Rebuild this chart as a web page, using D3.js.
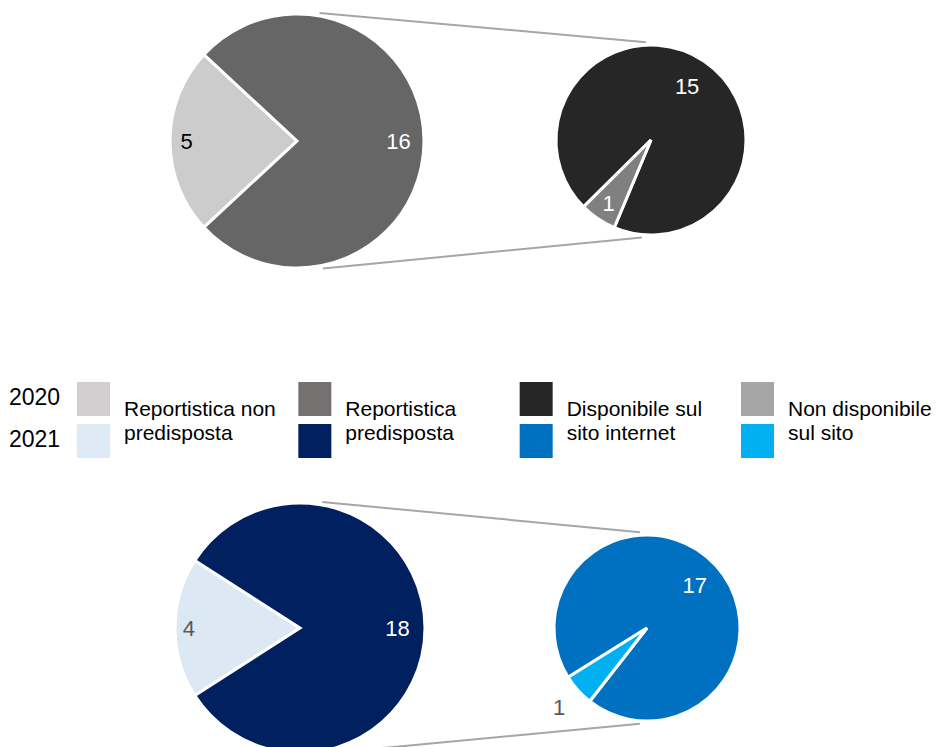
<!DOCTYPE html>
<html>
<head>
<meta charset="utf-8">
<script src="https://cdn.jsdelivr.net/npm/d3@7/dist/d3.min.js"></script>
<style>
  html, body { margin: 0; padding: 0; background: #ffffff; }
  svg { display: block; font-family: Arial, "Liberation Sans", sans-serif; }
</style>
</head>
<body>
<svg id="chart" width="936" height="747"></svg>
<script>
// ---- Data -------------------------------------------------------------
const years = ["2020", "2021"];

// Legend categories (two text lines each)
const legendLabels = [
  ["Reportistica non", "predisposta"],
  ["Reportistica", "predisposta"],
  ["Disponibile sul", "sito internet"],
  ["Non disponibile", "sul sito"]
];

// Main pie: [non predisposta, predisposta]
const main2020 = [5, 16];
const main2021 = [4, 18];

// Detail pie (breakdown of "predisposta"): [disponibile, non disponibile]
const detail2020 = [15, 1];
const detail2021 = [17, 1];

// Legend swatch colours per year
const legendColors2020 = ["#D0CECE", "#767171", "#262626", "#A6A6A6"];
const legendColors2021 = ["#DEEBF7", "#002060", "#0070C0", "#00B0F0"];

// Slice colours
const mainColors2020 = ["#CCCCCC", "#666666"];
const detailColors2020 = ["#262626", "#808080"];
const mainColors2021 = ["#DDE8F5", "#002060"];
const detailColors2021 = ["#0070C0", "#00B0F0"];

// ---- Drawing ----------------------------------------------------------
const svg = d3.select("#chart");
const deg = Math.PI / 180;

function polar(cx, cy, r, a) {
  return [cx + r * Math.sin(a), cy - r * Math.cos(a)];
}

function drawPieOfPie(cfg) {
  const g = svg.append("g");

  // connector lines between the two pies
  const lines = [
    [cfg.lineTop[0], cfg.lineTop[1]],
    [cfg.lineBottom[0], cfg.lineBottom[1]]
  ];
  g.selectAll("line.connector")
    .data(lines)
    .join("line")
    .attr("class", "connector")
    .each(function (d) {
      const p1 = polar(cfg.main.cx, cfg.main.cy, cfg.main.r + 3, d[0] * deg);
      const p2 = polar(cfg.detail.cx, cfg.detail.cy, cfg.detail.r + 3, d[1] * deg);
      d3.select(this)
        .attr("x1", p1[0]).attr("y1", p1[1])
        .attr("x2", p2[0]).attr("y2", p2[1]);
    })
    .attr("stroke", "#A6A6A6")
    .attr("stroke-width", 2);

  // main pie: small slice centred on the left side
  const mainTotal = d3.sum(cfg.mainValues);
  const smallSpan = cfg.mainValues[0] / mainTotal * 2 * Math.PI;
  const mainPie = d3.pie().sort(null).value(d => d)
    .startAngle(1.5 * Math.PI - smallSpan / 2)
    .endAngle(3.5 * Math.PI - smallSpan / 2);
  const mainArcs = mainPie(cfg.mainValues);
  const mainArc = d3.arc().innerRadius(0).outerRadius(cfg.main.r);

  const mg = g.append("g").attr("transform", `translate(${cfg.main.cx},${cfg.main.cy})`);
  mg.selectAll("path")
    .data(mainArcs)
    .join("path")
    .attr("d", mainArc)
    .attr("fill", (d, i) => cfg.mainColors[i])
    .attr("stroke", "#ffffff")
    .attr("stroke-width", 3)
    .attr("stroke-linejoin", "miter");

  mg.selectAll("text")
    .data(mainArcs)
    .join("text")
    .attr("transform", (d, i) => {
      const k = cfg.mainLabelK[i] * cfg.main.r;
      const c = d3.arc().innerRadius(k).outerRadius(k).centroid(d);
      return `translate(${c[0]},${c[1]})`;
    })
    .attr("text-anchor", "middle")
    .attr("dy", "0.36em")
    .attr("font-size", 22)
    .attr("fill", (d, i) => cfg.mainLabelColors[i])
    .text(d => d.data);

  // detail pie: small slice centred at a given angle
  const detTotal = d3.sum(cfg.detailValues);
  const detSmall = cfg.detailValues[1] / detTotal * 2 * Math.PI;
  const smallMid = cfg.detailSmallMid * deg;
  const detStart = smallMid + detSmall / 2;
  const detailPie = d3.pie().sort(null).value(d => d)
    .startAngle(detStart)
    .endAngle(detStart + 2 * Math.PI);
  const detArcs = detailPie(cfg.detailValues);
  const detArc = d3.arc().innerRadius(0).outerRadius(cfg.detail.r);

  const dg = g.append("g").attr("transform", `translate(${cfg.detail.cx},${cfg.detail.cy})`);
  dg.selectAll("path")
    .data(detArcs)
    .join("path")
    .attr("d", detArc)
    .attr("fill", (d, i) => cfg.detailColors[i])
    .attr("stroke", "#ffffff")
    .attr("stroke-width", 3)
    .attr("stroke-linejoin", "miter");

  dg.selectAll("text")
    .data(detArcs)
    .join("text")
    .attr("transform", (d, i) => {
      const k = cfg.detailLabelK[i] * cfg.detail.r;
      const c = d3.arc().innerRadius(k).outerRadius(k).centroid(d);
      return `translate(${c[0]},${c[1]})`;
    })
    .attr("text-anchor", "middle")
    .attr("dy", "0.36em")
    .attr("font-size", 22)
    .attr("fill", (d, i) => cfg.detailLabelColors[i])
    .text(d => d.data);
}

drawPieOfPie({
  main: { cx: 297, cy: 141, r: 127 },
  detail: { cx: 651, cy: 140, r: 95 },
  mainValues: main2020,
  detailValues: detail2020,
  mainColors: mainColors2020,
  detailColors: detailColors2020,
  mainLabelK: [0.87, 0.8],
  mainLabelColors: ["#000000", "#ffffff"],
  detailSmallMid: 214,
  detailLabelK: [0.68, 0.8],
  detailLabelColors: ["#ffffff", "#ffffff"],
  lineTop: [10, -3],
  lineBottom: [168.5, 185.3]
});

drawPieOfPie({
  main: { cx: 300, cy: 628, r: 125 },
  detail: { cx: 647, cy: 628, r: 93 },
  mainValues: main2021,
  detailValues: detail2021,
  mainColors: mainColors2021,
  detailColors: detailColors2021,
  mainLabelK: [0.89, 0.78],
  mainLabelColors: ["#595959", "#ffffff"],
  detailSmallMid: 228,
  detailLabelK: [0.69, 1.27],
  detailLabelColors: ["#ffffff", "#595959"],
  lineTop: [10, -4.2],
  lineBottom: [168.5, 184.3]
});

// ---- Legend -----------------------------------------------------------
const legend = svg.append("g");
const colX = d3.scalePoint().domain(d3.range(legendLabels.length)).range([77, 741]);
const rowY = d3.scalePoint().domain(years).range([382, 424]);
const yearColors = { "2020": legendColors2020, "2021": legendColors2021 };

legend.selectAll("text.year")
  .data(years)
  .join("text")
  .attr("class", "year")
  .attr("x", 9)
  .attr("y", d => rowY(d) + 23)
  .attr("font-size", 23)
  .attr("fill", "#000000")
  .text(d => d);

years.forEach(yr => {
  legend.selectAll(null)
    .data(yearColors[yr])
    .join("rect")
    .attr("x", (d, i) => colX(i))
    .attr("y", rowY(yr))
    .attr("width", 33)
    .attr("height", 34)
    .attr("fill", d => d);
});

const lt = legend.selectAll("text.lab")
  .data(legendLabels)
  .join("text")
  .attr("class", "lab")
  .attr("x", (d, i) => colX(i) + 47)
  .attr("y", 416)
  .attr("font-size", 21)
  .attr("fill", "#000000");
lt.selectAll("tspan")
  .data(d => d)
  .join("tspan")
  .attr("x", function () { return d3.select(this.parentNode).attr("x"); })
  .attr("dy", (d, i) => i === 0 ? 0 : 24)
  .text(d => d);
</script>
</body>
</html>
